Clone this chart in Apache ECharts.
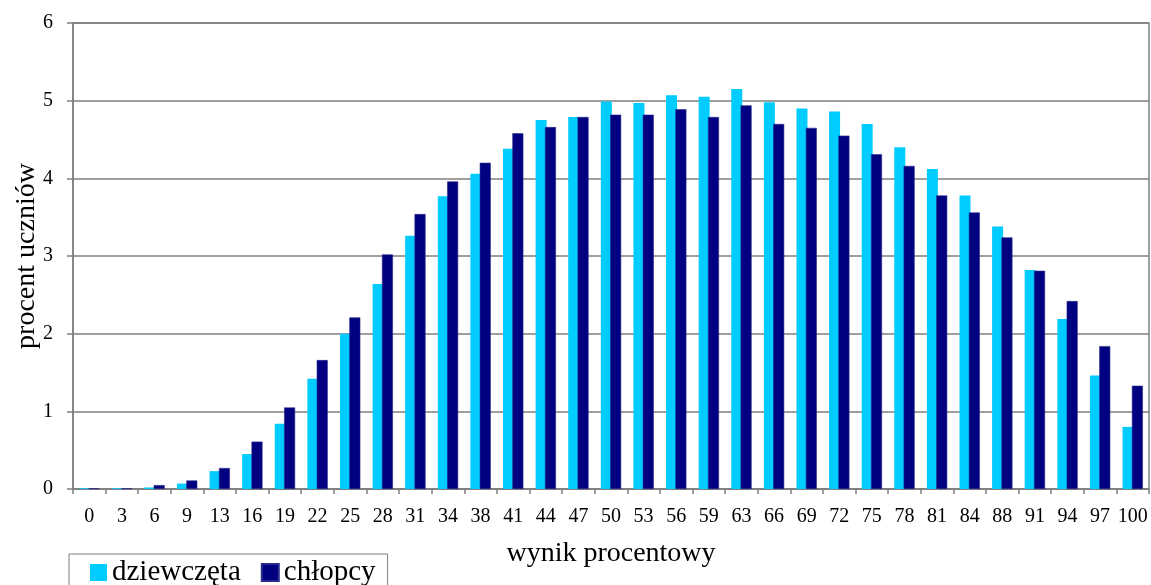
<!DOCTYPE html>
<html>
<head>
<meta charset="utf-8">
<script src="https://cdn.jsdelivr.net/npm/echarts@6/dist/echarts.min.js"></script>
<style>
html,body{margin:0;padding:0;background:#fff;}
#chart{width:1151px;height:585px;}
</style>
</head>
<body>
<div id="chart"></div>
<script>
const categories = ['0','3','6','9','13','16','19','22','25','28','31','34','38','41','44','47','50','53','56','59','63','66','69','72','75','78','81','84','88','91','94','97','100'];
const girls = [0.01,0.01,0.02,0.07,0.23,0.45,0.84,1.42,2.00,2.64,3.26,3.77,4.06,4.38,4.75,4.79,4.99,4.97,5.07,5.05,5.15,4.98,4.90,4.86,4.70,4.40,4.12,3.78,3.38,2.82,2.19,1.46,0.80];
const boys = [0.01,0.01,0.05,0.11,0.27,0.61,1.05,1.66,2.21,3.02,3.54,3.96,4.20,4.58,4.66,4.79,4.82,4.82,4.89,4.79,4.94,4.70,4.65,4.55,4.31,4.16,3.78,3.56,3.24,2.81,2.42,1.84,1.33];
const seriesNames = ['dziewczęta','chłopcy'];
const xTitle = 'wynik procentowy';
const yTitle = 'procent uczniów';

const FONT = "'Liberation Serif','Times New Roman',serif";
const GRAY = '#7f7f7f';
const chart = echarts.init(document.getElementById('chart'), null, {renderer:'canvas'});
chart.setOption({
  animation: false,
  textStyle: {fontFamily: FONT, color: '#000'},
  grid: {left: 73, right: 2, top: 23, bottom: 96, show: true, borderColor: GRAY, borderWidth: 1.5, containLabel: false, outerBoundsMode: 'none'},
  legend: {
    left: 69, top: 554,
    padding: [4, 12, 10, 21],
    borderColor: GRAY, borderWidth: 1, backgroundColor: '#fff',
    icon: 'rect', itemWidth: 17, itemHeight: 17, itemGap: 20,
    textStyle: {fontFamily: FONT, fontSize: 29, color: '#000', padding: [0,0,0,0]},
    data: seriesNames
  },
  xAxis: {
    type: 'category', data: categories, boundaryGap: true,
    name: xTitle, nameLocation: 'middle', nameGap: 51, nameMoveOverlap: false,
    nameTextStyle: {fontFamily: FONT, fontSize: 28, color: '#000'},
    axisLine: {lineStyle: {color: GRAY, width: 1.5}},
    axisTick: {show: true, length: 5, interval: 0, lineStyle: {color: GRAY, width: 1.5}},
    axisLabel: {interval: 0, fontFamily: FONT, fontSize: 20, color: '#000', margin: 18}
  },
  yAxis: {
    type: 'value', min: 0, max: 6, interval: 1,
    name: yTitle, nameLocation: 'middle', nameGap: 32, nameRotate: 90, nameMoveOverlap: false,
    nameTextStyle: {fontFamily: FONT, fontSize: 28, color: '#000'},
    axisLine: {show: true, lineStyle: {color: GRAY, width: 1.5}},
    axisTick: {show: true, length: 6, lineStyle: {color: GRAY, width: 1.5}},
    splitLine: {show: true, lineStyle: {color: GRAY, width: 1.5}},
    axisLabel: {fontFamily: FONT, fontSize: 20, color: '#000', margin: 20}
  },
  series: [
    {name: seriesNames[0], type: 'bar', data: girls, barWidth: 11, barGap: '-15%', itemStyle: {color: '#00CCFF'}},
    {name: seriesNames[1], type: 'bar', data: boys, barWidth: 11, itemStyle: {color: '#000080', borderColor: '#2a2a8c', borderWidth: 0.6}}
  ]
});
</script>
</body>
</html>
